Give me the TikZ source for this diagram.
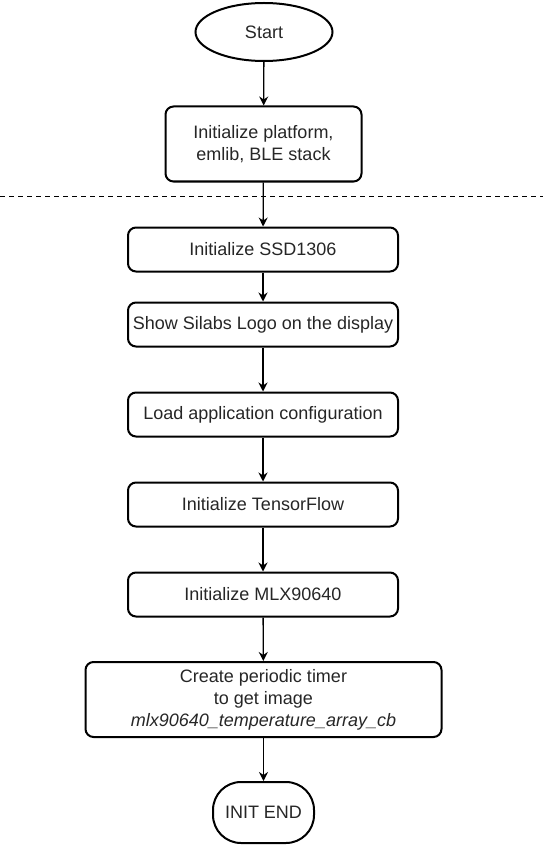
\documentclass[tikz,border=0pt]{standalone}
\usepackage{fontspec}
\setmainfont{Liberation Sans}
\usetikzlibrary{shapes.geometric,arrows.meta}
\begin{document}
\begin{tikzpicture}[x=1pt,y=-1pt,
  txt/.style={font=\fontsize{18}{22}\selectfont, text=black!85, align=center},
  box/.style={txt, draw=black, line width=2pt, rounded corners=8pt, inner sep=0pt},
  arr/.style={draw=black, line width=1.3pt, -{Stealth[length=9pt,width=9pt,inset=3pt]}}]
\useasboundingbox (0,0) rectangle (543,845);
\node[txt, ellipse, draw=black, line width=2pt, minimum width=137pt, minimum height=58pt, inner sep=0pt] (start) at (264,32) {Start};
\node[box, minimum width=196pt, minimum height=75pt] (b1) at (263.5,144) {Initialize platform,\\emlib, BLE stack};
\node[box, minimum width=270pt, minimum height=44pt] (b2) at (263,249.5) {Initialize SSD1306};
\node[box, minimum width=270pt, minimum height=44pt] (b3) at (263,324.5) {Show Silabs Logo on the display};
\node[box, minimum width=270pt, minimum height=44pt] (b4) at (263,414.5) {Load application configuration};
\node[box, minimum width=270pt, minimum height=44pt] (b5) at (263,504.5) {Initialize TensorFlow};
\node[box, minimum width=270pt, minimum height=44pt] (b6) at (263,594.5) {Initialize MLX90640};
\node[box, minimum width=356pt, minimum height=75pt] (b7) at (263.5,699.5) {Create periodic timer\\to get image\\\textit{mlx90640\_temperature\_array\_cb}};
\node[box, rounded corners=28pt, minimum width=101pt, minimum height=61pt] (end) at (263.5,812.5) {INIT END};
\coordinate (dl) at (0,196);
\coordinate (dr) at (543,196);
\draw[line width=1pt, dash pattern=on 5pt off 4pt] (dl) -- (dr);
\draw[arr] (start) -- (b1);
\draw[arr] (b1) -- (b2);
\draw[arr] (b2) -- (b3);
\draw[arr] (b3) -- (b4);
\draw[arr] (b4) -- (b5);
\draw[arr] (b5) -- (b6);
\draw[arr] (b6) -- (b7);
\draw[arr] (b7) -- (end);
\end{tikzpicture}
\end{document}
